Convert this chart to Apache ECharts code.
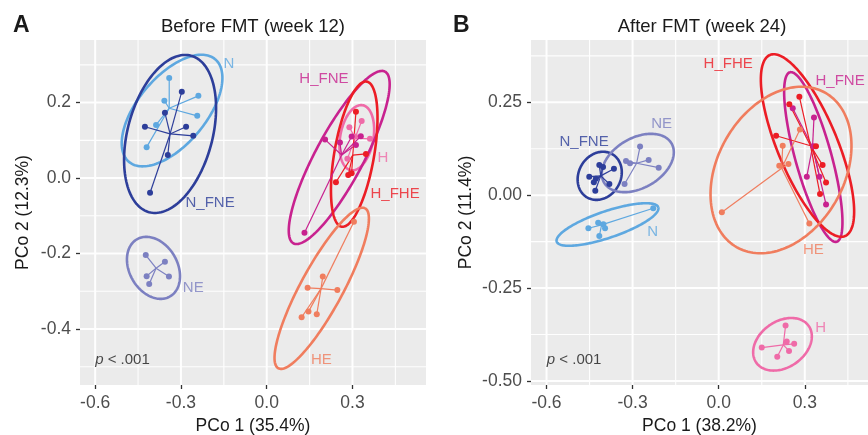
<!DOCTYPE html>
<html><head><meta charset="utf-8">
<script src="https://cdn.jsdelivr.net/npm/echarts@6/dist/echarts.min.js"></script>
<style>html,body{margin:0;padding:0;background:#fff}#c{width:868px;height:435px}</style>
</head><body><div id="c"></div>
<script>
// ---------- DATA ----------
const groups = ['N', 'N_FNE', 'NE', 'H', 'H_FNE', 'H_FHE', 'HE'];

// tick values and labels
const xTicks = [-0.6, -0.3, 0.0, 0.3];
const xTickLabels = ['-0.6', '-0.3', '0.0', '0.3'];
const xMinor = [-0.45, -0.15, 0.15, 0.45];
const yTicksA = [-0.4, -0.2, 0.0, 0.2];
const yTickLabelsA = ['-0.4', '-0.2', '0.0', '0.2'];
const yMinorA = [-0.5, -0.3, -0.1, 0.1, 0.3];
const yTicksB = [-0.5, -0.25, 0.0, 0.25];
const yTickLabelsB = ['-0.50', '-0.25', '0.00', '0.25'];
const yMinorB = [-0.375, -0.125, 0.125, 0.375];

// Panel A (Before FMT, week 12) sample coordinates [PCo1, PCo2]
const A_N = [[-0.341, 0.265], [-0.358, 0.205], [-0.239, 0.218], [-0.243, 0.165], [-0.387, 0.141], [-0.420, 0.082]];
const A_N_FNE = [[-0.297, 0.229], [-0.356, 0.173], [-0.426, 0.136], [-0.282, 0.136], [-0.257, 0.112], [-0.346, 0.061], [-0.408, -0.039]];
const A_NE = [[-0.423, -0.204], [-0.356, -0.222], [-0.420, -0.260], [-0.342, -0.261], [-0.411, -0.281]];
const A_H = [[0.332, 0.151], [0.289, 0.135], [0.361, 0.104], [0.282, 0.051], [0.309, 0.110]];
const A_H_FNE = [[0.204, 0.102], [0.256, 0.094], [0.312, 0.088], [0.329, 0.111], [0.297, 0.110], [0.132, -0.145]];
const A_H_FHE = [[0.312, 0.176], [0.347, 0.064], [0.242, -0.011], [0.285, 0.008], [0.297, 0.013]];
const A_HE = [[0.196, -0.261], [0.143, -0.291], [0.247, -0.297], [0.146, -0.354], [0.122, -0.369], [0.175, -0.361], [0.305, -0.116]];
// group centroids (same order as groups)
const A_centroids = [[-0.341, 0.185], [-0.338, 0.117], [-0.387, -0.239], [0.309, 0.106], [0.262, 0.061], [0.301, 0.061], [0.190, -0.293]];
// ellipses: [cx, cy, half-axis u (x,y), half-axis v (x,y)] in data units
const A_ellipses = [
  [-0.331, 0.179, 0.1506, 0.1361, -0.0911, 0.0579],
  [-0.338, 0.117, 0.0733, 0.2074, -0.1432, 0.0291],
  [-0.396, -0.238, 0.0577, -0.0758, 0.0727, 0.0318],
  [0.315, 0.107, 0.0204, 0.0861, -0.0571, 0.0078],
  [0.2535, 0.0546, 0.1602, 0.2275, -0.0740, 0.0300],
  [0.306, 0.0634, 0.0438, 0.1923, -0.0686, 0.0090],
  [0.1923, -0.2922, 0.1518, 0.2120, -0.0648, 0.0267]
];
const A_labelPos = [[-0.132, 0.304], [-0.198, -0.065], [-0.257, -0.291], [0.406, 0.053], [0.200, 0.262], [0.449, -0.042], [0.191, -0.482]];
const A_pPos = [-0.600, -0.483];

// Panel B (After FMT, week 24)
const B_N = [[-0.454, -0.089], [-0.420, -0.074], [-0.402, -0.078], [-0.396, -0.089], [-0.416, -0.110], [-0.228, -0.035]];
const B_N_FNE = [[-0.416, 0.081], [-0.403, 0.076], [-0.365, 0.071], [-0.451, 0.050], [-0.428, 0.044], [-0.435, 0.035], [-0.381, 0.030], [-0.430, 0.012]];
const B_NE = [[-0.274, 0.131], [-0.323, 0.092], [-0.309, 0.086], [-0.244, 0.095], [-0.209, 0.074], [-0.328, 0.030]];
const B_H = [[0.233, -0.351], [0.237, -0.394], [0.263, -0.400], [0.150, -0.410], [0.245, -0.419], [0.204, -0.435]];
const B_H_FNE = [[0.258, 0.234], [0.332, 0.209], [0.330, 0.132], [0.307, 0.050], [0.351, 0.050], [0.374, -0.025]];
const B_H_FHE = [[0.281, 0.265], [0.246, 0.245], [0.200, 0.160], [0.339, 0.132], [0.362, 0.081], [0.374, 0.034], [0.353, 0.003]];
const B_HE = [[0.223, 0.133], [0.211, 0.079], [0.243, 0.084], [0.011, -0.046], [0.316, -0.076], [0.283, 0.177]];
const B_centroids = [[-0.408, -0.080], [-0.411, 0.052], [-0.286, 0.086], [0.225, -0.403], [0.327, 0.130], [0.320, 0.133], [0.2195, 0.0724]];
const B_ellipses = [
  [-0.3875, -0.0788, 0.1769, 0.0462, -0.0149, 0.0339],
  [-0.4146, 0.0522, 0.0436, 0.0583, -0.0634, 0.0283],
  [-0.2819, 0.0867, 0.1177, 0.0525, -0.0436, 0.0583],
  [0.2223, -0.4012, 0.0913, 0.0494, -0.0460, 0.0507],
  [0.3296, 0.1028, -0.0814, 0.2280, -0.0608, -0.0129],
  [0.3094, 0.1337, -0.1307, 0.2437, -0.0966, -0.0309],
  [0.2171, 0.0678, 0.1551, 0.2074, -0.1904, 0.0849]
];
const B_labelPos = [[-0.230, -0.098], [-0.469, 0.144], [-0.199, 0.192], [0.355, -0.357], [0.423, 0.308], [0.033, 0.353], [0.330, -0.148]];
const B_pPos = [-0.599, -0.444];

const A_points = [A_N, A_N_FNE, A_NE, A_H, A_H_FNE, A_H_FHE, A_HE];
const B_points = [B_N, B_N_FNE, B_NE, B_H, B_H_FNE, B_H_FHE, B_HE];

// ---------- STYLE ----------
const colors = ['#5EA8E0', '#2D3E9A', '#7C80C1', '#EF6BA8', '#C8228F', '#EC1D25', '#F07D5E'];
const FONT = 'Liberation Sans, Arial, Helvetica, sans-serif';
const PANEL_BG = '#EBEBEB';
const GRID_WHITE = '#FEFEFE';

function lookup(vals, labels) {
  return function (v) {
    for (let i = 0; i < vals.length; i++) if (Math.abs(v - vals[i]) < 1e-9) return labels[i];
    return '';
  };
}

function ellipseItem(params, api) {
  const cx = api.value(0), cy = api.value(1), ux = api.value(2), uy = api.value(3), vx = api.value(4), vy = api.value(5);
  const pts = [];
  const n = 160;
  for (let k = 0; k <= n; k++) {
    const t = k / n * Math.PI * 2;
    const c = Math.cos(t), s = Math.sin(t);
    pts.push(api.coord([cx + ux * c + vx * s, cy + uy * c + vy * s]));
  }
  return {type: 'polyline', shape: {points: pts}, style: {fill: null, stroke: api.visual('color'), lineWidth: 2.6}};
}
function spiderItem(params, api) {
  const p = api.coord([api.value(0), api.value(1)]);
  const c = api.coord([api.value(2), api.value(3)]);
  return {type: 'line', shape: {x1: c[0], y1: c[1], x2: p[0], y2: p[1]}, style: {stroke: api.visual('color'), lineWidth: 1.2}};
}
// panel background
function panelBgSeries(k) {
  return {
    type: 'custom', xAxisIndex: k, yAxisIndex: k, z: 1, silent: true, clip: false,
    data: [[0, 0]],
    renderItem: function (params, api) {
      const cs = params.coordSys;
      return {type: 'rect', shape: {x: cs.x, y: cs.y, width: cs.width, height: cs.height},
        style: {fill: PANEL_BG}};
    }
  };
}
// grid lines as thin filled bars positioned with the axis scales
// data item: [xValue, yValue, orientation (0 vertical, 1 horizontal), major flag]
function gridItem(params, api) {
  const cs = params.coordSys;
  const p = api.coord([api.value(0), api.value(1)]);
  const w = api.value(3) ? 2 : 1.1;
  const shape = api.value(2) === 0
    ? {x: p[0] - w / 2, y: cs.y, width: w, height: cs.height}
    : {x: cs.x, y: p[1] - w / 2, width: cs.width, height: w};
  return {type: 'rect', shape: shape, style: {fill: GRID_WHITE}};
}
function gridLineSeries(k, xMaj, xMin, yMaj, yMin) {
  const d = [];
  xMin.forEach(v => d.push([v, 0, 0, 0]));
  yMin.forEach(v => d.push([0, v, 1, 0]));
  xMaj.forEach(v => d.push([v, 0, 0, 1]));
  yMaj.forEach(v => d.push([0, v, 1, 1]));
  return {type: 'custom', xAxisIndex: k, yAxisIndex: k, z: 2, silent: true, clip: false,
    itemStyle: {color: GRID_WHITE}, renderItem: gridItem, data: d};
}

function panelSeries(k, pointsArr, cents, ells, labelPos, pPos) {
  const s = [];
  groups.forEach((g, i) => {
    s.push({type: 'custom', xAxisIndex: k, yAxisIndex: k, z: 3, silent: true, clip: true,
      itemStyle: {color: colors[i]}, renderItem: ellipseItem, data: [ells[i]]});
  });
  groups.forEach((g, i) => {
    s.push({type: 'custom', xAxisIndex: k, yAxisIndex: k, z: 4, silent: true, clip: true,
      itemStyle: {color: colors[i]}, renderItem: spiderItem,
      data: pointsArr[i].map(p => [p[0], p[1], cents[i][0], cents[i][1]])});
  });
  groups.forEach((g, i) => {
    s.push({type: 'scatter', xAxisIndex: k, yAxisIndex: k, z: 5, silent: true,
      symbolSize: 6, itemStyle: {color: colors[i], opacity: 1}, data: pointsArr[i]});
  });
  s.push({type: 'scatter', xAxisIndex: k, yAxisIndex: k, z: 6, silent: true, symbolSize: 0,
    data: groups.map((g, i) => ({value: labelPos[i], name: g,
      label: {show: true, position: 'inside', formatter: g, color: colors[i], fontSize: 15, fontFamily: FONT}}))});
  s.push({type: 'scatter', xAxisIndex: k, yAxisIndex: k, z: 6, silent: true, symbolSize: 0,
    data: [{value: pPos, label: {show: true, position: 'inside', align: 'left',
      formatter: '{i|p} < .001', color: '#1A1A1A', fontSize: 15, fontFamily: FONT,
      rich: {i: {fontStyle: 'italic', fontSize: 15, color: '#1A1A1A', fontFamily: FONT}}}}]});
  return s;
}

function xAxisCfg(k, min, max, name) {
  return {gridIndex: k, type: 'value', min: min, max: max,
    axisLine: {show: false, onZero: false},
    axisTick: {show: true, customValues: xTicks, length: 4, lineStyle: {color: '#333333', width: 1.3}},
    axisLabel: {customValues: xTicks, formatter: lookup(xTicks, xTickLabels), color: '#4D4D4D', fontSize: 17.5, margin: 9, fontFamily: FONT},
    splitLine: {show: false},
    name: name, nameLocation: 'middle', nameGap: 32,
    nameTextStyle: {fontSize: 17.5, color: '#1A1A1A', fontFamily: FONT}};
}
function yAxisCfg(k, min, max, ticks, labels, name, gap) {
  return {gridIndex: k, type: 'value', min: min, max: max,
    axisLine: {show: false, onZero: false},
    axisTick: {show: true, customValues: ticks, length: 4, lineStyle: {color: '#333333', width: 1.3}},
    axisLabel: {customValues: ticks, formatter: lookup(ticks, labels), color: '#4D4D4D', fontSize: 17.5, margin: 9, fontFamily: FONT},
    splitLine: {show: false},
    name: name, nameLocation: 'middle', nameGap: gap,
    nameTextStyle: {fontSize: 17.5, color: '#1A1A1A', fontFamily: FONT}};
}

const chart = echarts.init(document.getElementById('c'), null, {renderer: 'canvas'});
chart.setOption({
  animation: false,
  textStyle: {fontFamily: FONT},
  grid: [
    {left: 80, top: 40, width: 346, height: 345, show: false, containLabel: false, outerBoundsMode: 'none'},
    {left: 531, top: 40, width: 337, height: 345, show: false, containLabel: false, outerBoundsMode: 'none'}
  ],
  xAxis: [
    xAxisCfg(0, -0.653, 0.557, 'PCo 1 (35.4%)'),
    xAxisCfg(1, -0.654, 0.5202, 'PCo 1 (38.2%)')
  ],
  yAxis: [
    yAxisCfg(0, -0.5485, 0.366, yTicksA, yTickLabelsA, 'PCo 2 (12.3%)', 48),
    yAxisCfg(1, -0.5108, 0.4177, yTicksB, yTickLabelsB, 'PCo 2 (11.4%)', 56)
  ],
  graphic: [
    {type: 'text', x: 13, y: 26, style: {text: 'A', font: 'bold 23px ' + FONT, fill: '#1A1A1A', textVerticalAlign: 'middle'}},
    {type: 'text', x: 453, y: 26, style: {text: 'B', font: 'bold 23px ' + FONT, fill: '#1A1A1A', textVerticalAlign: 'middle'}},
    {type: 'text', x: 253, y: 27, style: {text: 'Before FMT (week 12)', font: '18.5px ' + FONT, fill: '#1A1A1A', textAlign: 'center', textVerticalAlign: 'middle'}},
    {type: 'text', x: 702, y: 27, style: {text: 'After FMT (week 24)', font: '18.5px ' + FONT, fill: '#1A1A1A', textAlign: 'center', textVerticalAlign: 'middle'}}
  ],
  series: [
    panelBgSeries(0),
    panelBgSeries(1),
    gridLineSeries(0, xTicks, xMinor, yTicksA, yMinorA),
    gridLineSeries(1, xTicks, xMinor, yTicksB, yMinorB)
  ].concat(
    panelSeries(0, A_points, A_centroids, A_ellipses, A_labelPos, A_pPos),
    panelSeries(1, B_points, B_centroids, B_ellipses, B_labelPos, B_pPos)
  )
});
</script></body></html>
